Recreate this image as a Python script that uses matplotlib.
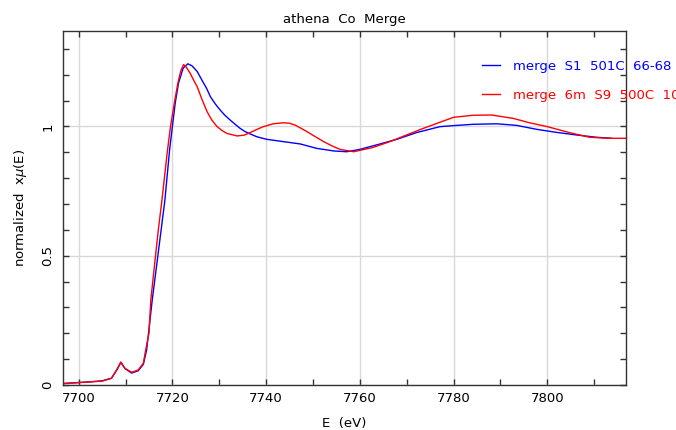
import matplotlib
matplotlib.use("Agg")
import matplotlib.pyplot as plt
from matplotlib.ticker import MultipleLocator

# Series 1: merge S1 501C 66-68 (blue)
e_s1 = [7690, 7697, 7702.4, 7705, 7707, 7708.1, 7709, 7709.9, 7711.3, 7712.7,
        7713.8, 7714.5, 7715.7, 7716.9, 7718.4, 7719.4, 7720, 7720.6, 7721.3,
        7722.3, 7723.3, 7724.2, 7725.3, 7726.3, 7727.3, 7728.1, 7729.1, 7730.2,
        7731.2, 7732.3, 7733.4, 7734.4, 7735.3, 7736.3, 7738, 7740.1,
        7743.7, 7747.3, 7750.8, 7754.4, 7757.2, 7760, 7764.3, 7767.9, 7772.1,
        7777.1, 7780, 7784.1, 7789.2, 7793.4, 7797.6, 7801.9, 7806.1, 7810.4,
        7813.7]
mu_s1 = [0.0, 0.006, 0.012, 0.016, 0.026, 0.057, 0.087, 0.063, 0.046, 0.055,
         0.08, 0.135, 0.329, 0.5, 0.715, 0.909, 1.0, 1.09, 1.167,
         1.225, 1.242, 1.234, 1.212, 1.179, 1.147, 1.115, 1.088, 1.063,
         1.043, 1.025, 1.008, 0.993, 0.982, 0.973, 0.96, 0.95,
         0.941, 0.932, 0.915, 0.905, 0.902, 0.911, 0.932, 0.95, 0.976,
         0.999, 1.003, 1.008, 1.01, 1.004, 0.989, 0.977, 0.967, 0.958,
         0.954]

# Series 2: merge 6m S9 500C (red)
e_s9 = [7690, 7697, 7702.4, 7705, 7707, 7708.1, 7709, 7709.9, 7711.3, 7712.7,
        7713.8, 7714.3, 7715.0, 7715.4, 7716.4, 7717.0, 7717.8, 7718.9, 7719.6,
        7720.5, 7721.2, 7721.8, 7722.4, 7723.0, 7723.8, 7724.5, 7725.3, 7726.3,
        7727.4, 7728.4, 7729.5, 7730.5, 7731.6, 7733.8, 7735.3, 7736.6, 7738,
        7739.4, 7741.5, 7743.7, 7745, 7746.2, 7748.7, 7750.5, 7752.3, 7754,
        7755.8, 7758.7, 7762.9, 7766.4, 7770, 7773.5, 7777.1, 7780, 7784.1,
        7788.1, 7792.7, 7796.2, 7800, 7804.7, 7809, 7813.2, 7820]
mu_s9 = [0.0, 0.006, 0.012, 0.015, 0.026, 0.058, 0.089, 0.064, 0.049, 0.058,
         0.084, 0.135, 0.2, 0.33, 0.5, 0.6, 0.72, 0.9, 1.0,
         1.1, 1.17, 1.215, 1.239, 1.228, 1.205, 1.18, 1.153, 1.105,
         1.057, 1.025, 1.0, 0.985, 0.973, 0.963, 0.966, 0.976, 0.988,
         0.999, 1.01, 1.014, 1.012, 1.005, 0.98, 0.96, 0.941, 0.925,
         0.911, 0.902, 0.919, 0.941, 0.967, 0.992, 1.016, 1.035, 1.043,
         1.044, 1.031, 1.014, 0.999, 0.976, 0.958, 0.954, 0.954]

label_s1 = "merge  S1  501C  66-68"
label_s9 = "merge  6m  S9  500C  109-111"
title = "athena  Co  Merge"
xlabel = "E  (eV)"
ylabel = r"normalized  x$\mu$(E)"

fig = plt.figure(figsize=(6.76, 4.30), dpi=100)
ax = fig.add_axes([0.0928, 0.1047, 0.8333, 0.8233])

ax.plot(e_s1, mu_s1, color="#0000ff", lw=1.0, label=label_s1)
ax.plot(e_s9, mu_s9, color="#ff0000", lw=1.0, label=label_s9)

ax.set_xlim(7696.6, 7816.8)
ax.set_ylim(0.0, 1.369)

ax.xaxis.set_major_locator(MultipleLocator(20))
ax.xaxis.set_minor_locator(MultipleLocator(10))
ax.yaxis.set_minor_locator(MultipleLocator(0.1))
ax.set_yticks([0, 0.5, 1])
ax.set_yticklabels(["0", "0.5", "1"], rotation=90, va="center")

ax.tick_params(which="both", direction="in", top=True, right=True,
               length=4, width=1, labelsize=9.5, color="#333333")
ax.tick_params(axis="x", pad=5)
ax.tick_params(axis="y", pad=6)
ax.grid(True, which="major", color="#d8d8d8", lw=1)
ax.set_axisbelow(True)
for s in ax.spines.values():
    s.set_color("#333333")
    s.set_linewidth(1)

ax.set_title(title, fontsize=9.5, pad=6)
ax.set_xlabel(xlabel, fontsize=9.5, labelpad=9)
ax.set_ylabel(ylabel, fontsize=9.5, labelpad=9)

leg = ax.legend(loc="upper left", bbox_to_anchor=(0.745, 0.918), frameon=False,
                fontsize=9.5, labelcolor="linecolor", handlelength=1.3,
                handletextpad=1.0, labelspacing=1.2, borderpad=0,
                borderaxespad=0)

fig.savefig("out.png", dpi=100)
